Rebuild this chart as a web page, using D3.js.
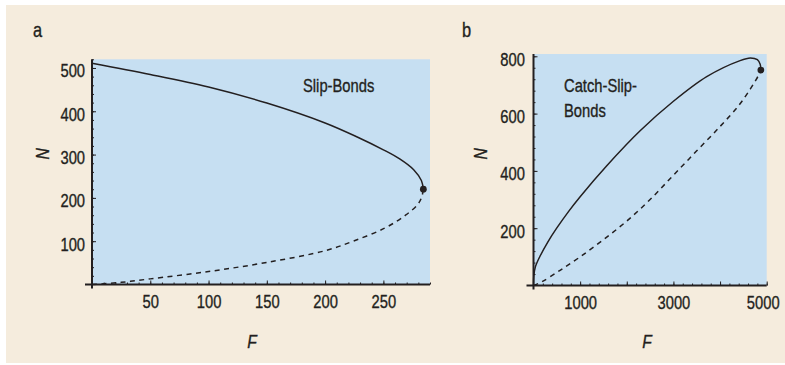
<!DOCTYPE html>
<html>
<head>
<meta charset="utf-8">
<script src="https://cdn.jsdelivr.net/npm/d3@7"></script>
<style>
  html, body { margin: 0; padding: 0; background: #ffffff; }
  svg { display: block; }
  text { font-family: "Liberation Sans", Arial, sans-serif; fill: #231f20; stroke: #231f20; stroke-width: 0.35px; }
</style>
</head>
<body>
<svg id="chart" width="785" height="365"></svg>
<script>
// ---------------- DATA ----------------
// Panel a: Slip-Bonds  (F, N) along the two branches
const slipUpperF = [0, 50, 100, 150, 200, 228, 250, 264, 276, 282.6, 284.3];
const slipUpperN = [511, 485, 456, 419, 373, 340, 311, 290, 265, 240, 220];
const slipLowerF = [0, 25, 50, 100, 150, 200, 224, 251, 269, 279.5, 283, 284.3];
const slipLowerN = [0, 5, 13, 30, 51, 78, 100, 130, 160, 185, 203, 220];
const slipPoint = [284.3, 220];

// Panel b: Catch-Slip-Bonds
const catchUpperF = [0, 8, 40, 139, 300, 497, 750, 1000, 1571, 2286, 3000, 3714, 4429, 4650, 4800, 4860, 4875];
const catchUpperN = [0, 35, 65, 102, 150, 200, 258, 310, 418, 540, 643, 729, 785, 794, 788, 772, 752];
const catchLowerF = [0, 180, 570, 1000, 1500, 2000, 2500, 3000, 3500, 4000, 4400, 4650, 4800, 4860, 4875];
const catchLowerN = [0, 13, 53, 100, 160, 225, 300, 385, 470, 555, 628, 686, 726, 742, 752];
const catchPoint = [4875, 752];

// Tick values
const aXMajor = [50, 100, 150, 200, 250];
const aYMajor = [100, 200, 300, 400, 500];
const bXMajor = [1000, 2000, 3000, 4000, 5000];
const bXLabels = [1000, 3000, 5000];
const bYMajor = [200, 400, 600, 800];

const panelLabels = ["a", "b"];
const annotA = ["Slip-Bonds"];
const annotB = ["Catch-Slip-", "Bonds"];
const xTitle = "F";
const yTitle = "N";

// ---------------- DRAW ----------------
const svg = d3.select("#chart");
const ink = "#231f20";
const plotBg = "#c6dff2";
const NARROW = 0.82; // emulate a condensed face

svg.append("rect").attr("x", 6).attr("y", 5).attr("width", 779).attr("height", 358)
  .attr("fill", "#f5ecdd");

function narrowText(parent, x, y, str, size, opts = {}) {
  const t = parent.append("text")
    .attr("transform", `translate(${x},${y})${opts.rotate ? ` rotate(${opts.rotate})` : ""} scale(${NARROW},1)`)
    .attr("font-size", size)
    .attr("text-anchor", opts.anchor || "start")
    .text(str);
  if (opts.italic) t.attr("font-style", "italic");
  return t;
}

function panel(cfg) {
  const x = d3.scaleLinear().domain(cfg.xDomain).range(cfg.xRange);
  const y = d3.scaleLinear().domain(cfg.yDomain).range(cfg.yRange);
  const g = svg.append("g");

  g.append("rect")
    .attr("x", x.range()[0]).attr("y", y.range()[1])
    .attr("width", x.range()[1] - x.range()[0])
    .attr("height", y.range()[0] - y.range()[1])
    .attr("fill", plotBg);

  const xMinor = d3.range(cfg.xDomain[0], cfg.xDomain[1] + 1e-9, cfg.xMinorStep).filter(v => v > 0);
  const yMinor = d3.range(cfg.yDomain[0], cfg.yDomain[1] + 1e-9, cfg.yMinorStep).filter(v => v > 0);
  const y0 = y(0), x0 = x(0);

  g.append("g").attr("transform", `translate(0,${y0})`)
    .call(d3.axisBottom(x).tickValues(xMinor).tickSize(-2).tickFormat(""))
    .call(s => s.select(".domain").remove())
    .call(s => s.selectAll("line").attr("stroke", ink).attr("stroke-width", 1));
  g.append("g").attr("transform", `translate(0,${y0})`)
    .call(d3.axisBottom(x).tickValues(cfg.xMajor).tickSize(-4).tickPadding(11)
      .tickFormat(d => cfg.xLabels.includes(d) ? d : ""))
    .call(s => s.select(".domain").remove())
    .call(s => s.selectAll("line").attr("stroke", ink).attr("stroke-width", 1))
    .call(s => s.selectAll("text").attr("font-size", 18).attr("fill", ink)
      .attr("font-family", '"Liberation Sans", Arial, sans-serif')
      .attr("transform", d => `translate(${cfg.lastShift && d === cfg.xMajor[cfg.xMajor.length - 1] ? cfg.lastShift : 0},0) scale(${NARROW},1)`));

  g.append("g").attr("transform", `translate(${x0},0)`)
    .call(d3.axisLeft(y).tickValues(yMinor).tickSize(-2).tickFormat(""))
    .call(s => s.select(".domain").remove())
    .call(s => s.selectAll("line").attr("stroke", ink).attr("stroke-width", 1));
  g.append("g").attr("transform", `translate(${x0},0)`)
    .call(d3.axisLeft(y).tickValues(cfg.yMajor).tickSize(-4).tickPadding(cfg.yPad))
    .call(s => s.select(".domain").remove())
    .call(s => s.selectAll("line").attr("stroke", ink).attr("stroke-width", 1))
    .call(s => s.selectAll("text").attr("font-size", 18).attr("dy", "0.5em").attr("fill", ink)
      .attr("font-family", '"Liberation Sans", Arial, sans-serif')
      .attr("transform", `scale(${NARROW},1)`));

  // axis lines with overhang
  g.append("line").attr("x1", x0 - 7).attr("x2", x.range()[1]).attr("y1", y0).attr("y2", y0)
    .attr("stroke", ink).attr("stroke-width", 2);
  g.append("line").attr("x1", x0).attr("x2", x0).attr("y1", y0 + 4).attr("y2", y.range()[1])
    .attr("stroke", ink).attr("stroke-width", 2);

  const line = d3.line().x(d => x(d[0])).y(d => y(d[1])).curve(d3.curveCatmullRom.alpha(0.5));

  g.append("path").datum(d3.zip(cfg.upperF, cfg.upperN))
    .attr("d", line).attr("fill", "none").attr("stroke", ink).attr("stroke-width", 1.5);
  g.append("path").datum(d3.zip(cfg.lowerF, cfg.lowerN))
    .attr("d", line).attr("fill", "none").attr("stroke", ink).attr("stroke-width", 1.5)
    .attr("stroke-dasharray", "5,4.5");
  g.append("circle").attr("cx", x(cfg.point[0])).attr("cy", y(cfg.point[1])).attr("r", 3.4)
    .attr("fill", ink);

  // titles
  narrowText(g, cfg.fX, 348, xTitle, 19, { anchor: "middle", italic: true });
  narrowText(g, cfg.nX, cfg.nY, yTitle, 19, { anchor: "middle", italic: true, rotate: -90 });
  narrowText(g, cfg.labelX, 37, cfg.label, 20);
  cfg.annot.forEach((t, i) => narrowText(g, cfg.annX, cfg.annY + i * 25, t, 18));
}

panel({
  xDomain: [0, 290], xRange: [92, 430],
  yDomain: [0, 520], yRange: [284.5, 59.3],
  xMinorStep: 10, yMinorStep: 20,
  xMajor: aXMajor, xLabels: aXMajor, yMajor: aYMajor, yPad: 8.5,
  upperF: slipUpperF, upperN: slipUpperN, lowerF: slipLowerF, lowerN: slipLowerN, point: slipPoint,
  fX: 252, nX: 48.5, nY: 154, label: panelLabels[0], labelX: 33,
  annot: annotA, annX: 303, annY: 92
});

panel({
  xDomain: [0, 5000], xRange: [533.5, 766.7],
  yDomain: [0, 808], yRange: [285.5, 54],
  xMinorStep: 200, yMinorStep: 40,
  xMajor: bXMajor, xLabels: bXLabels, yMajor: bYMajor, yPad: 10.5, lastShift: -4,
  upperF: catchUpperF, upperN: catchUpperN, lowerF: catchLowerF, lowerN: catchLowerN, point: catchPoint,
  fX: 647, nX: 487, nY: 154, label: panelLabels[1], labelX: 462,
  annot: annotB, annX: 564, annY: 92
});
</script>
</body>
</html>
